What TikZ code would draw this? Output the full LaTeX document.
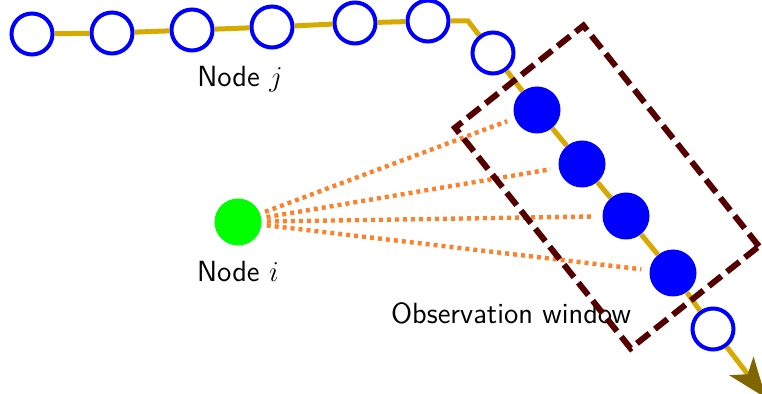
\documentclass[tikz,border=0pt]{standalone}
\usetikzlibrary{arrows.meta}
\begin{document}
\begin{tikzpicture}[x=0.5pt, y=-0.5pt]
  % Colors
  \definecolor{chaincol}{RGB}{214,170,0}
  \definecolor{tipcol}{RGB}{128,102,0}
  \definecolor{linkcol}{RGB}{255,128,42}
  \definecolor{wincol}{RGB}{85,0,0}
  %
  \tikzset{
    hnode/.style={circle, draw=blue, line width=2pt, fill=white, minimum size=20.5pt, inner sep=0pt},
    fnode/.style={circle, fill=blue, minimum size=23.5pt, inner sep=0pt},
    inode/.style={circle, fill=green, minimum size=23.5pt, inner sep=0pt},
    chain/.style={draw=chaincol, line width=2.5pt},
    link/.style={draw=linkcol, line width=2.2pt, dash pattern=on 2pt off 2pt,
                 shorten <=2.5pt, shorten >=4pt},
    txt/.style={font=\fontsize{14.6}{17}\selectfont\sffamily},
    window/.style={draw=wincol, line width=3pt, dash pattern=on 8pt off 3.5pt,
                   minimum width=141pt, minimum height=82pt, inner sep=0pt},
  }
  %
  \useasboundingbox (0,0) rectangle (762,394);
  %
  %%% NODE j CHAIN %%%
  \foreach \n/\x/\y in {1/32/34, 2/112/33, 3/192/30, 4/272/27, 5/355/23, 6/428/21, 7/493/53, 8/713/329} {
    \node[hnode] (h\n) at (\x,\y) {};
  }
  \foreach \n/\x/\y in {1/537/110, 2/582/164, 3/626/216, 4/673/273} {
    \node[fnode] (f\n) at (\x,\y) {};
  }
  \coordinate (bend) at (468,21);
  \coordinate (tip) at (766,398);
  %
  \draw[chain] (h1) -- (h2) -- (h3) -- (h4) -- (h5) -- (h6) -- (bend) -- (h7)
               -- (f1) -- (f2) -- (f3) -- (f4) -- (h8);
  \draw[chain, -{Stealth[length=20pt, width=15pt, inset=5pt, color=tipcol]}] (h8) -- (tip);
  %
  %%% NODE i %%%
  \node[inode] (ni) at (238,222) {};
  \foreach \n in {1,...,4} {
    \draw[link] (ni) -- (f\n);
  }
  %
  % Labels
  \node[txt] (lj) at (240,79) {Node $j$};
  \node[txt] (li) at (238,272) {Node $i$};
  \node[txt] (lw) at (511,313) {Observation window};
  %
  % Observation window
  \node[window, rotate=-51.5] (win) at (607,187) {};
\end{tikzpicture}
\end{document}
